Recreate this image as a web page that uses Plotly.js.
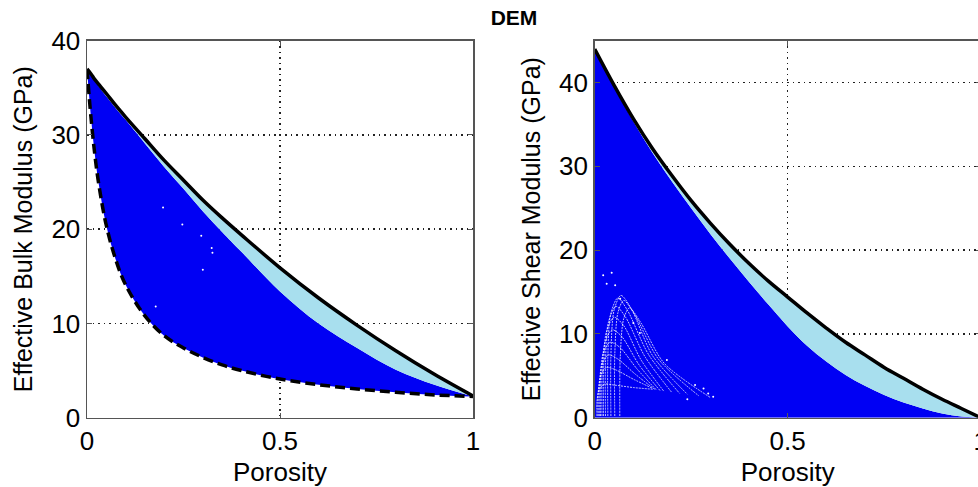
<!DOCTYPE html>
<html>
<head>
<meta charset="utf-8">
<script src="https://cdn.plot.ly/plotly-3.0.1.min.js"></script>
<style>
html,body{margin:0;padding:0;overflow:hidden;background:#fff;}
#chart{width:1000px;height:487px;}
</style>
</head>
<body>
<div id="chart"></div>
<script>
// ---- Data ----
const porosity = [0, 0.01, 0.02, 0.03, 0.05, 0.075, 0.1, 0.15, 0.2, 0.25, 0.3, 0.35, 0.4, 0.5, 0.6, 0.7, 0.8, 0.9, 1.0];
// Left panel: bulk modulus (GPa)
const bulkUpper = [37.0, 36.5, 35.9, 35.4, 34.4, 33.1, 31.9, 29.6, 27.3, 25.2, 23.1, 21.2, 19.4, 15.9, 12.7, 9.8, 7.1, 4.6, 2.3];
const bulkDEM   = [37.0, 36.4, 35.8, 35.2, 34.1, 32.8, 31.6, 29.1, 26.6, 24.3, 21.9, 19.7, 17.6, 13.4, 10.0, 7.4, 5.1, 3.5, 2.25];
const bulkLower = [37.0, 32.0, 28.0, 24.9, 20.4, 16.7, 14.1, 10.8, 8.7, 7.4, 6.4, 5.6, 5.0, 4.1, 3.5, 3.05, 2.7, 2.42, 2.25];
const bulkSpeckX = [0.197, 0.247, 0.296, 0.323, 0.325, 0.300, 0.178];
const bulkSpeckY = [22.3, 20.5, 19.3, 18.0, 17.5, 15.7, 11.8];

// Right panel: shear modulus (GPa)
const porosityS = [0, 0.05, 0.1, 0.15, 0.2, 0.25, 0.3, 0.35, 0.4, 0.45, 0.5, 0.55, 0.6, 0.65, 0.7, 0.75, 0.8, 0.85, 0.9, 0.95, 1.0];
const shearUpper = [44.0, 39.7, 35.7, 32.1, 28.9, 25.9, 23.2, 20.7, 18.4, 16.3, 14.4, 12.5, 10.7, 9.0, 7.5, 6.0, 4.7, 3.4, 2.2, 1.1, 0];
const shearDEM   = [44.0, 39.5, 35.4, 31.6, 28.2, 25.0, 21.9, 19.0, 16.2, 13.5, 10.9, 8.6, 6.7, 5.1, 3.8, 2.7, 1.8, 1.1, 0.5, 0.15, 0];

// White gaps between the densely plotted DEM curves (lower-left of right panel)
const fanArcsX = [
  [0.006, 0.006, 0.012, 0.025, 0.050, 0.100, 0.150],
  [0.009, 0.009, 0.016, 0.030, 0.055, 0.100, 0.150],
  [0.012, 0.012, 0.019, 0.035, 0.060, 0.105, 0.155],
  [0.015, 0.015, 0.022, 0.040, 0.065, 0.110, 0.160],
  [0.019, 0.019, 0.026, 0.045, 0.070, 0.115, 0.170],
  [0.023, 0.023, 0.030, 0.050, 0.075, 0.120, 0.180],
  [0.028, 0.028, 0.035, 0.055, 0.080, 0.130, 0.200],
  [0.034, 0.034, 0.041, 0.060, 0.085, 0.140, 0.220],
  [0.042, 0.042, 0.050, 0.068, 0.095, 0.150, 0.240],
  [0.052, 0.052, 0.060, 0.075, 0.105, 0.165, 0.270],
  [0.065, 0.066, 0.075, 0.090, 0.120, 0.180, 0.300]
];
const fanArcsY = [
  [0.2, 2.0, 3.4, 4.0, 3.9, 3.6, 3.4],
  [0.2, 3.0, 5.1, 6.0, 5.7, 4.6, 3.5],
  [0.2, 3.7, 6.4, 7.5, 7.0, 5.2, 3.4],
  [0.2, 4.5, 7.7, 9.0, 8.4, 5.8, 3.3],
  [0.2, 5.2, 8.9, 10.5, 9.7, 6.3, 3.2],
  [0.2, 6.0, 10.2, 12.0, 11.0, 6.9, 3.1],
  [0.2, 6.6, 11.3, 13.3, 12.0, 7.3, 3.0],
  [0.2, 7.2, 12.3, 14.3, 12.8, 7.5, 2.9],
  [0.2, 7.5, 12.8, 14.6, 13.0, 7.4, 2.8],
  [0.2, 7.5, 12.5, 14.0, 12.2, 7.0, 2.6],
  [0.2, 7.0, 11.8, 13.1, 11.3, 6.5, 2.4]
];
const fanDotsX = [0.022, 0.044, 0.031, 0.053, 0.066, 0.100, 0.117, 0.187, 0.282, 0.294, 0.307, 0.260, 0.240];
const fanDotsY = [17.0, 17.3, 16.0, 15.8, 14.2, 11.3, 10.1, 6.9, 3.5, 2.9, 2.5, 3.9, 2.2];

const xTicks = [0, 0.5, 1];
const xTickText = ['0', '0.5', '1'];
const bulkTicks = [0, 10, 20, 30, 40];
const shearTicks = [0, 10, 20, 30, 40];

const BLUE = '#0000f4';
const LIGHT = '#a8dfee';
const FONT = 'Liberation Sans, Arial, Helvetica, sans-serif';

const traces = [
  // left panel fills
  {x: porosity, y: bulkLower, xaxis:'x', yaxis:'y', mode:'lines', line:{width:0, color:BLUE, shape:'spline'}, hoverinfo:'skip', showlegend:false},
  {x: porosity, y: bulkDEM, xaxis:'x', yaxis:'y', mode:'lines', line:{width:0, color:BLUE, shape:'spline'}, fill:'tonexty', fillcolor:BLUE, showlegend:false},
  {x: porosity, y: bulkUpper, xaxis:'x', yaxis:'y', mode:'lines', line:{width:0, color:LIGHT, shape:'spline'}, fill:'tonexty', fillcolor:LIGHT, showlegend:false},
  {x: bulkSpeckX, y: bulkSpeckY, xaxis:'x', yaxis:'y', mode:'markers', marker:{size:2, color:'#ffffff'}, showlegend:false},
  {x: porosity, y: bulkUpper, xaxis:'x', yaxis:'y', mode:'lines', line:{width:3.5, color:'#000', shape:'spline'}, showlegend:false},
  {x: porosity, y: bulkLower, xaxis:'x', yaxis:'y', mode:'lines', line:{width:3.5, color:'#000', dash:'10px,5px', shape:'spline'}, showlegend:false},
  // right panel fills
  {x: porosityS, y: shearDEM, xaxis:'x2', yaxis:'y2', mode:'lines', line:{width:0, color:BLUE, shape:'spline'}, fill:'tozeroy', fillcolor:BLUE, showlegend:false},
  {x: porosityS, y: shearUpper, xaxis:'x2', yaxis:'y2', mode:'lines', line:{width:0, color:LIGHT, shape:'spline'}, fill:'tonexty', fillcolor:LIGHT, showlegend:false}
];
fanArcsX.forEach(function(ax, i){
  traces.push({x: ax, y: fanArcsY[i], xaxis:'x2', yaxis:'y2', mode:'lines',
    line:{width:1, color:'rgba(255,255,255,0.75)', shape:'spline', smoothing:0.8, dash:'2px,1px'}, showlegend:false});
});
traces.push({x: fanDotsX, y: fanDotsY, xaxis:'x2', yaxis:'y2', mode:'markers', marker:{size:2, color:'#ffffff'}, showlegend:false});
traces.push({x: porosityS, y: shearUpper, xaxis:'x2', yaxis:'y2', mode:'lines', line:{width:3.5, color:'#000', shape:'spline'}, showlegend:false});

const W = 1000, H = 487;
function axX(dom, anchor){
  return {domain: dom, anchor: anchor, range:[0,1], tickvals: xTicks, ticktext: xTickText,
    showgrid:true, gridcolor:'#222', griddash:'1.5px,4px', gridwidth:1.5,
    zeroline:false, showline:true, linecolor:'#555', linewidth:1.5, mirror:'ticks',
    ticks:'inside', ticklen:5, tickcolor:'#555',
    tickfont:{family:FONT, size:26, color:'#000'},
    title:{text:'Porosity', font:{family:FONT, size:26, color:'#000'}, standoff:10}};
}
function axY(dom, anchor, range, ticks, title){
  return {domain: dom, anchor: anchor, range: range, tickvals: ticks,
    showgrid:true, gridcolor:'#222', griddash:'1.5px,4px', gridwidth:1.5,
    zeroline:false, showline:true, linecolor:'#555', linewidth:1.5, mirror:'ticks',
    ticks:'inside', ticklen:5, tickcolor:'#555',
    tickfont:{family:FONT, size:26, color:'#000'},
    title:{text:title, font:{family:FONT, size:25, color:'#000'}, standoff:11}};
}
const yDom = [1 - 417.7/H, 1 - 40.7/H];
const layout = {
  width: W, height: H,
  margin:{l:0, r:0, t:0, b:0},
  paper_bgcolor:'#fff', plot_bgcolor:'#fff',
  title:{text:'<b>DEM</b>', x:0.514, xanchor:'center', y:1-17.5/H, yanchor:'middle', font:{family:FONT, size:21, color:'#000'}},
  xaxis: axX([0.087, 0.473], 'y'),
  yaxis: axY(yDom, 'x', [0, 40], bulkTicks, 'Effective Bulk Modulus (GPa)'),
  xaxis2: axX([0.5947, 0.9807], 'y2'),
  yaxis2: axY(yDom, 'x2', [0, 45], shearTicks, 'Effective Shear Modulus (GPa)'),
  showlegend:false
};
Plotly.newPlot('chart', traces, layout, {staticPlot:true, displayModeBar:false});
</script>
</body>
</html>
